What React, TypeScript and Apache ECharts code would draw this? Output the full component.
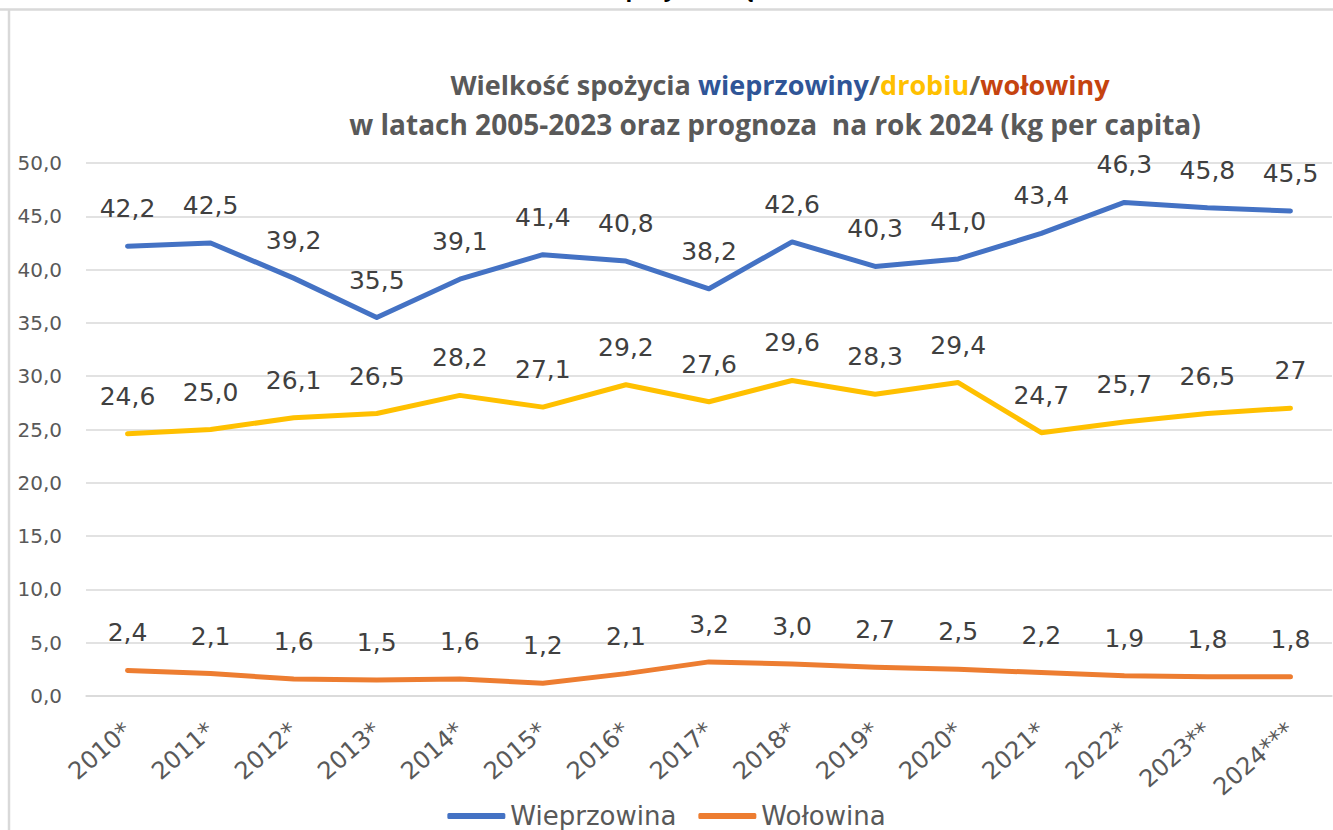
import React, { useEffect, useRef } from "react";
import * as echarts from "echarts";

const categories = ["2010*", "2011*", "2012*", "2013*", "2014*", "2015*", "2016*", "2017*", "2018*", "2019*", "2020*", "2021*", "2022*", "2023**", "2024***"];
const wieprzowina = [42.2, 42.5, 39.2, 35.5, 39.1, 41.4, 40.8, 38.2, 42.6, 40.3, 41.0, 43.4, 46.3, 45.8, 45.5];
const drobiu = [24.6, 25.0, 26.1, 26.5, 28.2, 27.1, 29.2, 27.6, 29.6, 28.3, 29.4, 24.7, 25.7, 26.5, 27];
const wolowina = [2.4, 2.1, 1.6, 1.5, 1.6, 1.2, 2.1, 3.2, 3.0, 2.7, 2.5, 2.2, 1.9, 1.8, 1.8];
// indices whose data label is shown without decimals
const drobiuPlainLabels = [14];

const fmt = (v: number) => v.toFixed(1).replace(".", ",");

const FONT = "DejaVu Sans";
const GRAY = "#595959";
const LABEL = "#404040";

export default function App() {
  const ref = useRef<HTMLDivElement>(null);
  useEffect(() => {
    document.body.style.margin = "0";
    const chart = echarts.init(ref.current!, null, { renderer: "svg" });
    const labelCfg = (plain: number[] = []) => ({
      show: true,
      position: "top",
      distance: 24,
      fontSize: 25,
      color: LABEL,
      fontFamily: FONT,
      formatter: (p: any) => (plain.includes(p.dataIndex) ? String(p.value) : fmt(p.value)),
    });
    const TS = 27;
    const titleRich = {
      g: { fontSize: TS, fontWeight: "bold", fontFamily: "Open Sans", fill: GRAY, color: GRAY },
      b: { fontSize: TS, fontWeight: "bold", fontFamily: "Open Sans", fill: "#2F5597", color: "#2F5597" },
      y: { fontSize: TS, fontWeight: "bold", fontFamily: "Open Sans", fill: "#FFC000", color: "#FFC000" },
      r: { fontSize: TS, fontWeight: "bold", fontFamily: "Open Sans", fill: "#C5430F", color: "#C5430F" },
    };
    chart.setOption({
      animation: false,
      backgroundColor: "#ffffff",
      grid: { left: 86, right: 1, top: 163, bottom: 134, containLabel: false },
      legend: {
        data: ["Wieprzowina", "Wołowina"],
        top: 797,
        left: "center",
        icon: "roundRect",
        itemWidth: 58,
        itemHeight: 6,
        itemGap: 22,
        textStyle: { fontSize: 26, lineHeight: 28, color: GRAY, fontFamily: FONT },
      },
      xAxis: {
        type: "category",
        data: categories,
        boundaryGap: true,
        axisLine: { show: true, lineStyle: { color: "#d9d9d9", width: 1.5 } },
        axisTick: { show: false },
        axisLabel: { interval: 0, rotate: 41, margin: 31, fontSize: 24, color: GRAY, fontFamily: FONT },
      },
      yAxis: {
        type: "value",
        min: 0,
        max: 50,
        interval: 5,
        axisLine: { show: false },
        axisTick: { show: false },
        axisLabel: { formatter: (v: number) => fmt(v), margin: 24, fontSize: 20, color: GRAY, fontFamily: FONT },
        splitLine: { lineStyle: { color: "#d9d9d9", width: 1.5 } },
      },
      series: [
        {
          name: "Wieprzowina",
          type: "line",
          data: wieprzowina,
          symbol: "circle",
          symbolSize: 2,
          itemStyle: { color: "#4472C4" },
          lineStyle: { color: "#4472C4", width: 5, cap: "round", join: "round" },
          label: labelCfg(),
        },
        {
          name: "Wołowina",
          type: "line",
          data: wolowina,
          symbol: "circle",
          symbolSize: 2,
          itemStyle: { color: "#ED7D31" },
          lineStyle: { color: "#ED7D31", width: 5, cap: "round", join: "round" },
          label: labelCfg(),
        },
        {
          name: "Drób",
          type: "line",
          data: drobiu,
          symbol: "circle",
          symbolSize: 2,
          itemStyle: { color: "#FFC000" },
          lineStyle: { color: "#FFC000", width: 5, cap: "round", join: "round" },
          label: labelCfg(drobiuPlainLabels),
        },
      ],
      graphic: [
        {
          type: "text",
          x: 695,
          y: -1,
          style: {
            text: "Wielkość spożycia mięsa w Polsce",
            align: "center",
            verticalAlign: "bottom",
            fontSize: 22,
            fontWeight: "bold",
            fontFamily: "Open Sans",
            fill: "#000000",
          },
        },
        {
          type: "line",
          shape: { x1: 0, y1: 9.5, x2: 1333, y2: 9.5 },
          style: { stroke: "#d9d9d9", lineWidth: 2.5 },
        },
        {
          type: "line",
          shape: { x1: 9, y1: 9, x2: 9, y2: 830 },
          style: { stroke: "#d9d9d9", lineWidth: 2.5 },
        },
        {
          type: "text",
          x: 780,
          y: 84,
          style: {
            text: "{g|Wielkość spożycia }{b|wieprzowiny}{g|/}{y|drobiu}{g|/}{r|wołowiny}",
            rich: titleRich,
            align: "center",
            verticalAlign: "middle",
            fontSize: TS,
            fontWeight: "bold",
            fontFamily: "Open Sans",
            fill: GRAY,
          },
        },
        {
          type: "text",
          x: 775,
          y: 124,
          style: {
            text: "w latach 2005-2023 oraz prognoza  na rok 2024 (kg per capita)",
            align: "center",
            verticalAlign: "middle",
            fontSize: 28,
            fontWeight: "bold",
            fontFamily: "Open Sans",
            fill: GRAY,
          },
        },
      ],
    });
    return () => chart.dispose();
  }, []);
  return <div ref={ref} style={{ width: 1333, height: 830 }} />;
}
